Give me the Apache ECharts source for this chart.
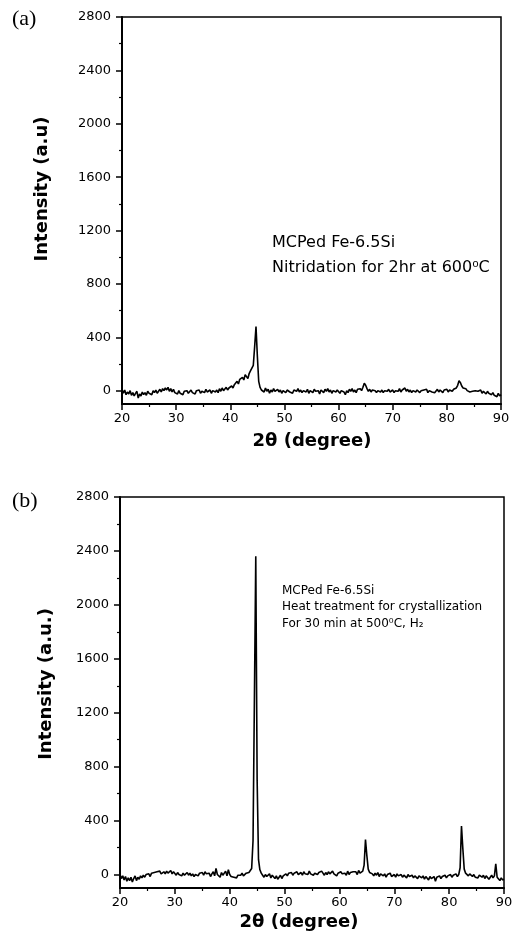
<!DOCTYPE html>
<html>
<head>
<meta charset="utf-8">
<title>XRD Fe-6.5Si</title>
<script src="https://cdn.jsdelivr.net/npm/echarts@6/dist/echarts.min.js"></script>
<style>
  html, body { margin: 0; padding: 0; background: #fff; }
  #chart { width: 519px; height: 943px; }
</style>
</head>
<body>
<div id="chart"></div>
<script>
// 2theta grid of the scans (degree)
var angleStart = 20, angleStep = 0.25;

// (a) nitridation for 2hr at 600C, one row per degree (x.00, x.25, x.50, x.75)
var intensityA = [
    10, -20, 5, -30,    -10, -25, 0, -35,    -15, -40, -20, -5,   -55, -25, -40, -10,
    -30, -15, -35, -5,  -20, -10, -30, 0,    -15, 5, -20, -5,     10, -10, 15, 0,
    20, 5, 25, -5,      15, -10, 10, -15,    -5, -25, 0, -20,     -10, -30, -5, -15,
    0, -20, -10, 5,     -15, -5, -25, 0,     -10, 5, -20, -5,     0, -15, 10, -10,
    -5, 5, -20, 0,      10, -10, 5, -15,     15, -5, 20, 0,       10, 25, 5, 20,
    15, 35, 20, 45,     40, 70, 50, 85,      75, 100, 80, 120,    110, 90, 130, 150,
    140, 190, 330, 480, 260, 70, 25, 5,      15, -10, 20, -5,     10, -20, 5, -10,
    15, -5, -15, 10,    -10, 5, -20, 0,      10, -15, 5, -5,      -10, 0, -20, 5,
    10, -5, 15, -10,    5, -15, 0, -5,       -10, 10, -20, 0,     5, -15, 10, -5,
    -10, 0, -25, 5,     0, -15, 10, -5,      15, -10, 5, -20,     0, 10, -10, 5,
    -5, -20, 0, 10,     -10, -30, 0, -15,    10, -5, 15, -10,     5, -15, 10, 0,
    15, 0, 25, 55,      40, 15, -5, 10,      -10, 5, -5, 0,       -15, 0, -5, -10,
    5, -15, 0, -10,     -5, 10, -10, 0,      5, -15, 0, 10,       -5, 15, -10, 5,
    0, 20, -5, 10,      -10, 5, -15, 0,      10, -10, 5, -5,      -15, 0, -10, 5,
    -5, 10, -15, 0,     5, -10, 0, -15,      -5, 10, -10, 5,      0, -15, 5, -5,
    10, -10, 5, 15,     -5, 10, 0, 20,       40, 75, 60, 35,      20, 10, 15, 0,
    5, -10, 0, -5,      -15, 0, -10, -5,     -10, 5, -20, -5,     -15, -25, -5, -20,
    -10, -30, -15, -35, -25, -45, -20, -40,  -30
];

// (b) heat treatment for crystallization, 30 min at 500C in H2
var intensityB = [
    0, -30, -10, -40,   -15, -50, -25, -45,  -20, -55, -30, -10,  -45, -20, -35, -10,
    -25, -5, -20, 0,    -10, 5, -15, 10,     0, 15, 5, 20,        10, 25, 5, 15,
    20, 5, 25, 10,      15, 30, 5, 20,       10, -5, 15, 0,       5, -10, 10, -5,
    0, 15, -5, 10,      -10, 5, -15, 0,      5, -10, 10, 0,       15, -5, 20, 5,
    -5, 10, -15, 5,     20, -10, 45, 0,      10, -20, 15, -5,     5, 25, -10, 35,
    0, -15, -5, -20,    -10, -25, -5, -15,   -5, 10, -10, 0,      10, 20, 15, 30,
    45, 250, 1300, 2360, 700, 110, 35, 10,   -5, -20, 0, -15,     -10, 5, -25, -5,
    -15, -30, -10, -35, -20, -5, -30, -10,   -15, 5, -10, 10,     0, 15, -5, 10,
    5, 20, 0, 10,       15, -5, 20, 5,       10, 0, 25, 5,        15, -5, 10, 20,
    0, 15, 5, 25,       10, -5, 15, 0,       20, 5, 10, 25,       5, 15, -10, 10,
    0, 20, 5, 15,       10, -5, 25, 0,       15, 5, 20, 10,       20, 0, 30, 10,
    15, 25, 70, 260,    140, 40, 15, 5,      5, -10, 10, -5,      15, -15, 5, 0,
    -10, 5, -20, 0,     -5, 10, -15, -5,     0, -20, 5, -10,      -15, 0, -20, -5,
    -10, -25, 0, -15,   -20, -5, -25, -10,   -15, -30, -10, -20,  -25, -10, -35, -15,
    -20, -40, -15, -30, -35, -15, -50, -20,  -25, -10, -30, -15,  -20, -5, -25, -10,
    -15, 0, -20, -5,    -10, 5, -15, 0,      50, 360, 190, 40,    10, 0, -10, 5,
    5, -15, 0, -20,     -10, -25, -5, -15,   -20, -5, -30, -10,   -15, -35, -20, -5,
    -25, -10, 80, -20,  -30, -45, -25, -40,  -35
];

var yTicks = [0, 400, 800, 1200, 1600, 2000, 2400, 2800];
var yMinorTicks = [200, 600, 1000, 1400, 1800, 2200, 2600];

var FONT = '"DejaVu Sans", sans-serif';

function toPairs(arr) {
    return arr.map(function (v, i) { return [angleStart + i * angleStep, v]; });
}

function plain(v) { return String(v); }

function xAxisOf(idx) {
    return {
        type: 'value', gridIndex: idx, min: 20, max: 90, interval: 10,
        splitLine: { show: false },
        axisLine: { onZero: false, lineStyle: { color: '#000', width: 2 } },
        axisTick: { length: 6, lineStyle: { color: '#000', width: 1.5 } },
        minorTick: { show: true, splitNumber: 2, length: 3, lineStyle: { color: '#000', width: 1.2 } },
        axisLabel: { color: '#000', fontFamily: FONT, fontSize: 13, margin: 8, formatter: plain }
    };
}

function yAxisOf(idx) {
    return {
        type: 'value', gridIndex: idx, min: -100, max: 2800,
        splitLine: { show: false },
        axisLine: { onZero: false, lineStyle: { color: '#000', width: 2 } },
        axisTick: { customValues: yTicks, length: 6, lineStyle: { color: '#000', width: 1.5 } },
        axisLabel: { customValues: yTicks, color: '#000', fontFamily: FONT, fontSize: 13, margin: 11, formatter: plain }
    };
}

// second left axis only for the minor ticks
function yMinorOf(idx) {
    return {
        type: 'value', gridIndex: idx, min: -100, max: 2800, position: 'left',
        splitLine: { show: false },
        axisLine: { show: false },
        axisTick: { customValues: yMinorTicks, length: 3, lineStyle: { color: '#000', width: 1.2 } },
        axisLabel: { show: false }
    };
}

var chart = echarts.init(document.getElementById('chart'));
var option = {
    animation: false,
    backgroundColor: '#fff',
    grid: [
        { left: 122, top: 17, width: 379, height: 387, show: true, borderColor: '#000', borderWidth: 1.5 },
        { left: 120, top: 497, width: 384, height: 391, show: true, borderColor: '#000', borderWidth: 1.5 }
    ],
    xAxis: [xAxisOf(0), xAxisOf(1)],
    yAxis: [yAxisOf(0), yAxisOf(1), yMinorOf(0), yMinorOf(1)],
    series: [
        {
            type: 'line', xAxisIndex: 0, yAxisIndex: 0, data: toPairs(intensityA),
            showSymbol: false, lineStyle: { color: '#000', width: 1.6 }
        },
        {
            type: 'line', xAxisIndex: 1, yAxisIndex: 1, data: toPairs(intensityB),
            showSymbol: false, lineStyle: { color: '#000', width: 1.6 }
        }
    ],
    graphic: [
        // panel letters
        { type: 'text', x: 12, y: 19, style: { text: '(a)', font: '22px "Liberation Serif", serif', fill: '#000', textVerticalAlign: 'middle' } },
        { type: 'text', x: 12, y: 501, style: { text: '(b)', font: '22px "Liberation Serif", serif', fill: '#000', textVerticalAlign: 'middle' } },
        // axis titles
        { type: 'text', x: 42, y: 189, rotation: Math.PI / 2, style: { text: 'Intensity (a.u)', font: 'bold 18px ' + FONT, fill: '#000', textAlign: 'center', textVerticalAlign: 'middle' } },
        { type: 'text', x: 46, y: 684, rotation: Math.PI / 2, style: { text: 'Intensity (a.u.)', font: 'bold 18px ' + FONT, fill: '#000', textAlign: 'center', textVerticalAlign: 'middle' } },
        { type: 'text', x: 312, y: 441, style: { text: '2θ (degree)', font: 'bold 18px ' + FONT, fill: '#000', textAlign: 'center', textVerticalAlign: 'middle' } },
        { type: 'text', x: 299, y: 922, style: { text: '2θ (degree)', font: 'bold 18px ' + FONT, fill: '#000', textAlign: 'center', textVerticalAlign: 'middle' } },
        // annotations
        { type: 'text', x: 272, y: 243, style: { text: 'MCPed Fe-6.5Si', font: '16px ' + FONT, fill: '#000', textVerticalAlign: 'middle' } },
        { type: 'text', x: 272, y: 268, style: { text: 'Nitridation for 2hr at 600⁰C', font: '16px ' + FONT, fill: '#000', textVerticalAlign: 'middle' } },
        { type: 'text', x: 282, y: 591, style: { text: 'MCPed Fe-6.5Si', font: '12px ' + FONT, fill: '#000', textVerticalAlign: 'middle' } },
        { type: 'text', x: 282, y: 607, style: { text: 'Heat treatment for crystallization', font: '12px ' + FONT, fill: '#000', textVerticalAlign: 'middle' } },
        { type: 'text', x: 282, y: 624, style: { text: 'For 30 min at 500⁰C, H₂', font: '12px ' + FONT, fill: '#000', textVerticalAlign: 'middle' } }
    ]
};
chart.setOption(option);
</script>
</body>
</html>
